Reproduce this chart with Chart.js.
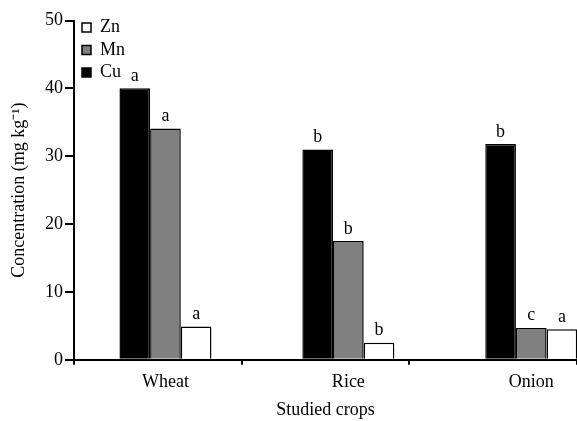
<!DOCTYPE html>
<html><head><meta charset="utf-8">
<script src="https://cdn.jsdelivr.net/npm/chart.js@4"></script>
<style>html,body{margin:0;padding:0;background:#fff}#wrap{width:577px;height:421px;position:relative}</style>
</head><body><div id="wrap"><canvas id="c"></canvas></div>
<script>
const categories = ['Wheat', 'Rice', 'Onion'];
const cuValues = [40.0, 31.0, 31.8];
const mnValues = [34.1, 17.5, 4.7];
const znValues = [4.9, 2.5, 4.5];
const cuLetters = ['a', 'b', 'b'];
const mnLetters = ['a', 'b', 'c'];
const znLetters = ['a', 'b', 'a'];
const yMin = 0, yMax = 50, yStep = 10;

const FONT = "'Liberation Serif', 'Times New Roman', serif";
Chart.defaults.font.family = FONT;
Chart.defaults.font.size = 18;
Chart.defaults.color = '#000';

const toPoints = vals => vals.map((v, i) => ({ x: i, y: v }));

const letterPlugin = {
  id: 'letters',
  afterDatasetsDraw(chart) {
    const ctx = chart.ctx;
    ctx.save();
    ctx.font = "18px " + FONT;
    ctx.fillStyle = '#000';
    ctx.textAlign = 'center';
    ctx.textBaseline = 'alphabetic';
    chart.data.datasets.forEach((ds, i) => {
      const meta = chart.getDatasetMeta(i);
      meta.data.forEach((bar, j) => {
        ctx.fillText(ds.letters[j], bar.x, bar.y - 7.5);
      });
    });
    ctx.restore();
  }
};

const legendPlace = {
  id: 'legendPlace',
  afterLayout(chart) {
    const lg = chart.legend;
    const ca = chart.chartArea;
    lg.left = ca.left + 3.5;
    lg.top = ca.top - 6.5;
    lg.right = lg.left + lg.width;
    lg.bottom = lg.top + lg.height;
  }
};

new Chart(document.getElementById('c'), {
  type: 'bar',
  data: {
    datasets: [
      { label: 'Cu', data: toPoints(cuValues), letters: cuLetters, xAxisID: 'x', yAxisID: 'y', backgroundColor: '#000000', borderColor: '#000000', borderWidth: 1.5 },
      { label: 'Mn', data: toPoints(mnValues), letters: mnLetters, xAxisID: 'x', yAxisID: 'y', backgroundColor: '#808080', borderColor: '#000000', borderWidth: 1.5 },
      { label: 'Zn', data: toPoints(znValues), letters: znLetters, xAxisID: 'x', yAxisID: 'y', backgroundColor: '#ffffff', borderColor: '#000000', borderWidth: 1.5 }
    ]
  },
  options: {
    responsive: true,
    maintainAspectRatio: false,
    animation: false,
    categoryPercentage: 0.503,
    barPercentage: 1.0,
    layout: { padding: { left: 6, top: 20.5, right: 0, bottom: 0 } },
    plugins: {
      tooltip: { enabled: false },
      legend: {
        position: 'chartArea',
        align: 'start',
        reverse: true,
        labels: { boxWidth: 9, boxHeight: 9, padding: 4.5, color: '#000', font: { size: 18, family: FONT } }
      }
    },
    scales: {
      x: {
        type: 'linear', position: 'bottom', weight: 1,
        min: -0.5, max: 2.25, bounds: 'data', offset: false,
        afterBuildTicks: s => { s.ticks = categories.map((c, i) => ({ value: i })); },
        ticks: { autoSkip: false, padding: 6.5, color: '#000', font: { size: 18 }, callback: v => categories[v] ?? '' },
        grid: { display: false, offset: false, drawTicks: false, tickLength: 0 },
        border: { display: false },
        title: { display: true, text: 'Studied crops', color: '#000', font: { size: 18 }, padding: { top: 0, bottom: 0 } }
      },
      x2: {
        type: 'linear', position: 'bottom', weight: 0,
        min: 0, max: 3, bounds: 'data', offset: false,
        ticks: { display: false, stepSize: 1 },
        grid: { drawOnChartArea: false, offset: false, drawTicks: true, tickLength: 5, color: '#000', lineWidth: 2 },
        border: { display: true, color: '#000', width: 2 }
      },
      y: {
        min: yMin, max: yMax,
        ticks: { stepSize: yStep, padding: 2, color: '#000', font: { size: 18 } },
        grid: { drawOnChartArea: false, tickLength: 9, color: '#000', lineWidth: 2 },
        border: { display: true, color: '#000', width: 2 },
        title: { display: true, text: 'Concentration (mg kg\u207B\u00B9)', color: '#000', font: { size: 18 }, padding: { top: 2, bottom: 2 } },
        afterFit: s => { s.width = 68; }
      }
    }
  },
  plugins: [letterPlugin, legendPlace]
});
</script>
</body></html>
